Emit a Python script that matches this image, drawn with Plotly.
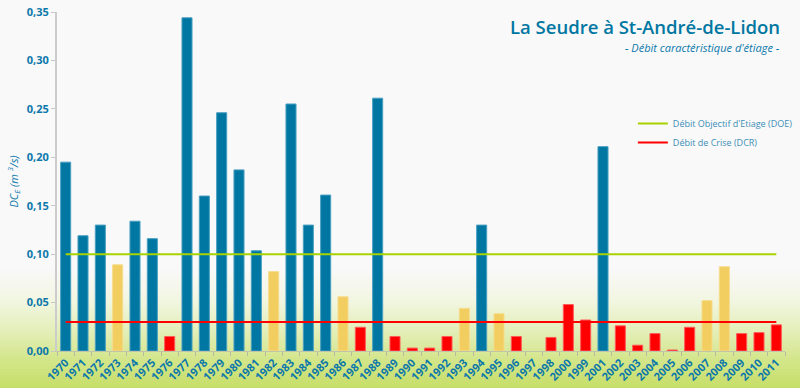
import plotly.graph_objects as go

years = ["1970", "1971", "1972", "1973", "1974", "1975", "1976", "1977", "1978", "1979",
         "1980", "1981", "1982", "1983", "1984", "1985", "1986", "1987", "1988", "1989",
         "1990", "1991", "1992", "1993", "1994", "1995", "1996", "1997", "1998", "2000",
         "1999", "2001", "2002", "2003", "2004", "2005", "2006", "2007", "2008", "2009",
         "2010", "2011"]
dce = [0.195, 0.119, 0.130, 0.089, 0.134, 0.116, 0.015, 0.344, 0.160, 0.246,
       0.187, 0.1035, 0.082, 0.255, 0.130, 0.161, 0.056, 0.0245, 0.261, 0.015,
       0.003, 0.003, 0.015, 0.044, 0.130, 0.0385, 0.015, 0.0, 0.014, 0.048,
       0.032, 0.211, 0.026, 0.006, 0.018, 0.001, 0.0245, 0.052, 0.087, 0.018,
       0.019, 0.027]
# class of each year as shown in the chart: b = above DOE, y = intermediate, r = crisis
classes = ["b", "b", "b", "y", "b", "b", "r", "b", "b", "b",
           "b", "b", "y", "b", "b", "b", "y", "r", "b", "r",
           "r", "r", "r", "y", "b", "y", "r", "r", "r", "r",
           "r", "b", "r", "r", "r", "r", "r", "y", "y", "r",
           "r", "r"]
doe_value = 0.10
dcr_value = 0.03
doe_name = "Débit Objectif d'Etiage (DOE)"
dcr_name = "Débit de Crise (DCR)"
title_text = "La Seudre à St-André-de-Lidon"
subtitle_text = "- Débit caractéristique d'étiage -"
y_ticks = [0.0, 0.05, 0.10, 0.15, 0.20, 0.25, 0.30, 0.35]

BLUE = "#0077a2"
GOLD = "#f2cd5f"
RED = "#ff0000"
TXT = "#0b78ab"

fill = {"b": BLUE, "y": GOLD, "r": RED}
edge = {"b": "#4a9fc2", "y": "#f6dc8e", "r": "#ff5a5a"}
colors = [fill[c] for c in classes]
lines = [edge[c] for c in classes]
lwidths = [1 if v > 0 else 0 for v in dce]

fig = go.Figure()
fig.add_trace(go.Bar(x=years, y=dce,
                     marker=dict(color=colors, line=dict(color=lines, width=lwidths)),
                     showlegend=False, hoverinfo="x+y"))
fig.add_trace(go.Scatter(x=years, y=[doe_value] * len(years), mode="lines",
                         line=dict(color="#a8d300", width=2), name=doe_name))
fig.add_trace(go.Scatter(x=years, y=[dcr_value] * len(years), mode="lines",
                         line=dict(color=RED, width=2), name=dcr_name))

# background gradient (pixel y -> colour), built from bands in paper coords
L, R, T, B = 57, 785, 12, 351
H = B - T
stops = [(0, (249, 249, 249)), (268, (249, 249, 249)), (300, (242, 246, 226)),
         (330, (228, 239, 186)), (360, (211, 230, 138)), (388, (198, 222, 104))]

def col_at(py):
    for (y0, c0), (y1, c1) in zip(stops[:-1], stops[1:]):
        if y0 <= py <= y1:
            t = (py - y0) / (y1 - y0) if y1 > y0 else 0
            return tuple(round(a + (b - a) * t) for a, b in zip(c0, c1))
    return stops[-1][1]

shapes = []
step = 3
for py in range(255, 388, step):
    c = col_at(py + step / 2)
    shapes.append(dict(type="rect", xref="paper", yref="paper", layer="below",
                       x0=(0 - L) / (R - L), x1=(800 - L) / (R - L),
                       y0=(B - (py + step + 0.5)) / H, y1=(B - py) / H,
                       fillcolor="rgb(%d,%d,%d)" % c, line=dict(width=0)))

fig.update_layout(
    width=800, height=388,
    margin=dict(l=L, r=800 - R, t=T, b=388 - B, autoexpand=False),
    paper_bgcolor="#f9f9f9", plot_bgcolor="rgba(0,0,0,0)",
    separators=", ",
    bargap=0.42,
    shapes=shapes,
    font=dict(family="Open Sans", color=TXT),
    showlegend=True,
    legend=dict(x=0.791, y=0.714, xanchor="left", yanchor="top", bgcolor="rgba(0,0,0,0)",
                font=dict(size=9, color="#3b8fb8"), tracegroupgap=8, itemwidth=30),
    xaxis=dict(type="category", categoryorder="array", categoryarray=years,
               tickangle=-45, tickfont=dict(size=11, color=TXT, weight="bold"),
               ticks="outside", tickson="boundaries", ticklen=4, tickcolor="#b8b8a0",
               showline=True, linecolor="#c0c4a8", linewidth=1, showgrid=False,
               automargin=False, range=[-0.5, len(years) - 0.5]),
    yaxis=dict(range=[0, 0.35], tickvals=y_ticks, tickformat=".2f",
               tickfont=dict(size=11, color=TXT, weight="bold"),
               ticks="outside", ticklen=4, tickcolor="#c8c8c8",
               showline=True, linecolor="#cccccc", linewidth=2, showgrid=False,
               zeroline=False, automargin=False,
               title=dict(text="DC<sub>E</sub> (m <sup>3</sup>/s)", standoff=6,
                          font=dict(size=11, color=TXT, style="italic"))),
    annotations=[
        dict(text=title_text, xref="paper", yref="paper", x=(782 - L) / (R - L), y=(B - 27) / H,
             xanchor="right", yanchor="middle", showarrow=False,
             font=dict(size=18.5, color=BLUE, family="Open Sans", weight=600)),
        dict(text=subtitle_text, xref="paper", yref="paper", x=(782 - L) / (R - L), y=(B - 47) / H,
             xanchor="right", yanchor="middle", showarrow=False,
             font=dict(size=11, color=TXT, family="Open Sans", style="italic")),
    ],
)

fig.write_html("out.html", config={"displayModeBar": False},
               post_script="document.body.style.margin='0';document.body.style.overflow='hidden';")
